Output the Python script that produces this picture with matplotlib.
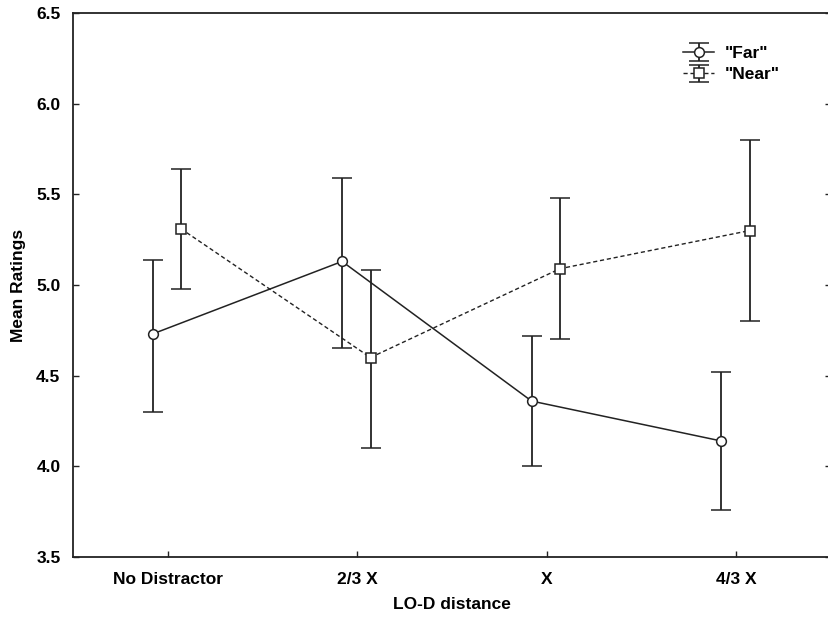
import numpy as np
import matplotlib.pyplot as plt

# data
categories = ['No Distractor', '2/3 X', 'X', '4/3 X']
far_mean = [4.73, 5.13, 4.36, 4.14]
far_hi = [5.14, 5.59, 4.72, 4.52]
far_lo = [4.30, 4.65, 4.00, 3.76]
near_mean = [5.31, 4.60, 5.09, 5.30]
near_hi = [5.64, 5.08, 5.48, 5.80]
near_lo = [4.98, 4.10, 4.70, 4.80]

plt.rcParams['font.family'] = ['Liberation Sans', 'DejaVu Sans']
plt.rcParams['font.weight'] = 'bold'

fig = plt.figure(figsize=(8.29, 6.18), dpi=100)
ax = fig.add_axes([73/829, 61/618, 758/829, 544/618])

x = np.arange(len(categories))
fm = np.array(far_mean)
nm = np.array(near_mean)
far_err = [fm - np.array(far_lo), np.array(far_hi) - fm]
near_err = [nm - np.array(near_lo), np.array(near_hi) - nm]

ax.errorbar(x - 0.08, fm, yerr=far_err, color='#222222', lw=1.1, elinewidth=1.3,
	capsize=7.2, capthick=1.3, marker='o', ms=7, mfc='white', mec='#222222',
	mew=1.1, label='"Far"')
ax.errorbar(x + 0.07, nm, yerr=near_err, color='#222222', lw=1.0, ls=(0, (3, 2)),
	elinewidth=1.3, capsize=7.2, capthick=1.3, marker='s', ms=7, mfc='white',
	mec='#222222', mew=1.1, label='"Near"')

ax.set_xlim(-0.5, 3.5)
ax.set_ylim(3.5, 6.5)
ax.set_yticks(np.arange(3.5, 6.51, 0.5))
ax.set_yticklabels(['%.1f' % v for v in np.arange(3.5, 6.51, 0.5)])
ax.set_xticks(x)
ax.set_xticklabels(categories)
ax.tick_params(direction='in', length=4, width=1, labelsize=12.5, pad=9,
	right=True, color='#222222')
ax.tick_params(axis='x', pad=11)
for s in ax.spines.values():
	s.set_linewidth(1.3)
	s.set_color('#222222')

ax.set_xlabel('LO-D distance', fontsize=12.5, fontweight='bold', labelpad=7)
ax.set_ylabel('Mean Ratings', fontsize=12.5, fontweight='bold')
ax.yaxis.set_label_coords(-0.062, 0.5)

leg = ax.legend(loc='upper right', bbox_to_anchor=(0.953, 0.968), frameon=False,
	fontsize=12.5, handlelength=1.8, handletextpad=0.6, labelspacing=0.35)

fig.savefig('out.png', dpi=100)
